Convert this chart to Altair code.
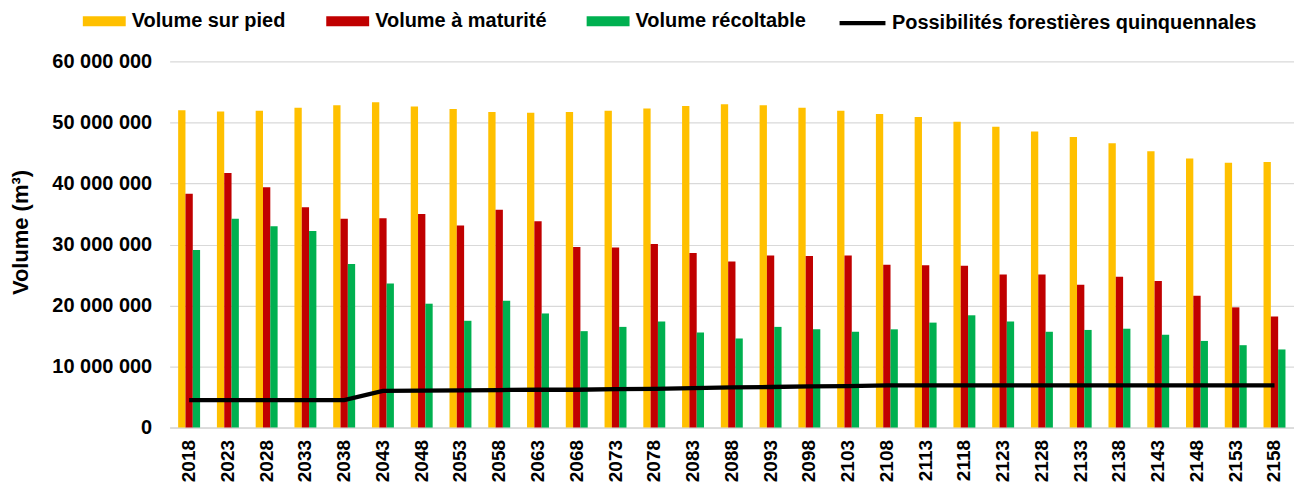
import altair as alt
import pandas as pd

annees = [str(y) for y in range(2018, 2159, 5)]

volume_sur_pied = [52.0, 51.8, 51.9, 52.4, 52.8, 53.3, 52.6, 52.2, 51.7, 51.6,
                   51.7, 51.9, 52.3, 52.7, 53.0, 52.8, 52.4, 51.9, 51.4, 50.9,
                   50.1, 49.3, 48.5, 47.6, 46.6, 45.3, 44.1, 43.4, 43.5]
volume_maturite = [38.3, 41.7, 39.4, 36.1, 34.2, 34.3, 35.0, 33.1, 35.7, 33.8,
                   29.6, 29.5, 30.1, 28.6, 27.2, 28.2, 28.1, 28.2, 26.7, 26.6,
                   26.5, 25.1, 25.1, 23.4, 24.7, 24.0, 21.6, 19.7, 18.2]
volume_recoltable = [29.1, 34.2, 33.0, 32.2, 26.8, 23.6, 20.3, 17.5, 20.8, 18.7,
                     15.8, 16.5, 17.4, 15.6, 14.6, 16.5, 16.1, 15.7, 16.1, 17.2,
                     18.4, 17.4, 15.7, 16.0, 16.2, 15.2, 14.2, 13.5, 12.8]
possibilites = [4.5, 4.5, 4.5, 4.5, 4.5, 6.0, 6.05, 6.1, 6.15, 6.2,
                6.2, 6.3, 6.35, 6.45, 6.6, 6.65, 6.75, 6.8, 6.9, 6.9,
                6.9, 6.9, 6.9, 6.9, 6.9, 6.9, 6.9, 6.9, 6.9]

series = ["Volume sur pied", "Volume à maturité", "Volume récoltable"]
couleurs = ["#FFC000", "#C00000", "#00B050"]
ligne_nom = "Possibilités forestières quinquennales"
y_ticks = [0, 10e6, 20e6, 30e6, 40e6, 50e6, 60e6]

rows = []
for s, vals in zip(series, [volume_sur_pied, volume_maturite, volume_recoltable]):
    for a, v in zip(annees, vals):
        rows.append({"annee": a, "serie": s, "volume": v * 1e6})
bars_df = pd.DataFrame(rows)
line_df = pd.DataFrame({"annee": annees, "ligne": ligne_nom,
                        "volume": [v * 1e6 for v in possibilites]})

FONT = "Liberation Sans"

x_enc = alt.X("annee:N", sort=annees, title=None,
              scale=alt.Scale(paddingInner=0.434, paddingOuter=0.22),
              axis=alt.Axis(labelAngle=-90, labelFontSize=19, labelPadding=12,
                            ticks=False, tickSize=0, domainColor="#D9D9D9",
                            domainWidth=1.5, grid=False))
y_enc = alt.Y("volume:Q", title="Volume (m³)",
              scale=alt.Scale(domain=[0, 60e6], nice=False),
              axis=alt.Axis(values=y_ticks, format=",d", labelFontSize=20,
                            labelPadding=18, ticks=False, tickSize=0,
                            domain=False, gridColor="#D9D9D9", gridWidth=1.2,
                            titleFontSize=22, titleAngle=270, titleX=-142,
                            titleY=171, titleBaseline="alphabetic",
                            titleAlign="center"))

bars = alt.Chart(bars_df).mark_bar().encode(
    x=x_enc,
    y=y_enc,
    xOffset=alt.XOffset("serie:N", sort=series),
    color=alt.Color("serie:N", sort=series,
                    scale=alt.Scale(domain=series, range=couleurs),
                    legend=alt.Legend(title=None, orient="none", legendX=-87,
                                      legendY=-62, direction="horizontal",
                                      symbolType="M-1,-0.23H1V0.23H-1Z",
                                      symbolSize=1849, symbolStrokeWidth=0,
                                      symbolOpacity=1, labelOffset=6,
                                      columnPadding=40, labelLimit=500)),
)

line = alt.Chart(line_df).mark_line(strokeWidth=4.3, color="black").encode(
    x=alt.X("annee:N", sort=annees),
    y=alt.Y("volume:Q"),
    stroke=alt.Stroke("ligne:N",
                      scale=alt.Scale(domain=[ligne_nom], range=["black"]),
                      legend=alt.Legend(title=None, orient="none", legendX=669,
                                        legendY=-64, symbolType="stroke",
                                        symbolSize=2116, symbolStrokeWidth=4.3,
                                        labelOffset=4, labelLimit=600)),
)

chart = alt.layer(bars, line).resolve_scale(color="independent").properties(
    width=1127, height=367,
    autosize=alt.AutoSizeParams(type="none"),
    padding={"left": 162, "top": 53, "right": 0, "bottom": 56},
).configure(
    locale={"number": {"decimal": ",", "thousands": "\u00a0", "grouping": [3],
                       "currency": ["", " €"]}},
).configure_view(stroke=None).configure_axis(
    labelFont=FONT, labelFontWeight="bold", labelColor="black",
    titleFont=FONT, titleFontWeight="bold", titleColor="black",
).configure_legend(
    labelFont=FONT, labelFontWeight="bold", labelFontSize=20, labelColor="black",
)

chart.save("out.html", embed_options={"renderer": "svg", "actions": False})
